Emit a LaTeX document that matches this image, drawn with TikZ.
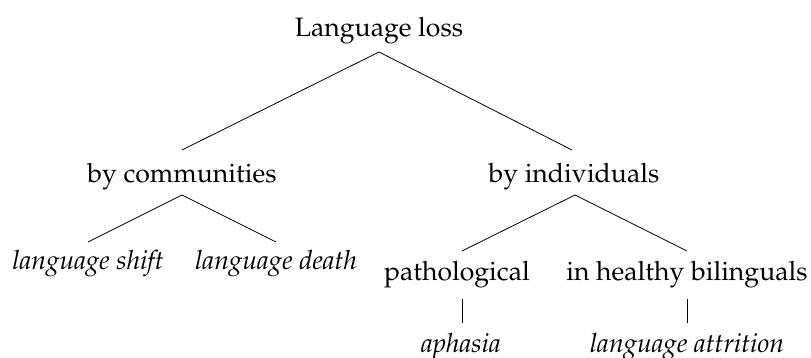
\documentclass[tikz,border=0pt]{standalone}
\usepackage[T1]{fontenc}
\usepackage{mathpazo}
\begin{document}
\begin{tikzpicture}[x=1pt,y=-1pt,
  lbl/.style={anchor=base,inner sep=0pt,font=\fontsize{26.6}{30}\selectfont},
  edge/.style={draw=black,line width=0.8pt}]
\useasboundingbox (0,0) rectangle (811,358);
\node[lbl] (ll) at (379,37) {Language loss};
\node[lbl] (bc) at (182,183) {by communities};
\node[lbl] (bi) at (574,183) {by individuals};
\node[lbl] (ls) at (88,269) {\itshape language shift};
\node[lbl] (ld) at (276,269) {\itshape language death};
\node[lbl] (pa) at (457,280) {pathological};
\node[lbl] (hb) at (687,280) {in healthy bilinguals};
\node[lbl] (ap) at (461,352) {\itshape aphasia};
\node[lbl] (at) at (687,352) {\itshape language attrition};
% edges
\path[edge] ([yshift=-15pt]ll.base) -- ([yshift=33pt]bc.base);
\path[edge] ([yshift=-15pt]ll.base) -- ([xshift=-2pt,yshift=33pt]bi.base);
\path[edge] ([yshift=-12pt]bc.base) -- ([yshift=27pt]ls.base);
\path[edge] ([yshift=-12pt]bc.base) -- ([yshift=27pt]ld.base);
\path[edge] ([xshift=1pt,yshift=-12pt]bi.base) -- ([xshift=5pt,yshift=29pt]pa.base);
\path[edge] ([xshift=1pt,yshift=-12pt]bi.base) -- ([yshift=29pt]hb.base);
\path[edge] ([xshift=5pt,yshift=-19pt]pa.base) -- ([xshift=1pt,yshift=29pt]ap.base);
\path[edge] ([yshift=-19pt]hb.base) -- ([yshift=29pt]at.base);
\end{tikzpicture}
\end{document}
